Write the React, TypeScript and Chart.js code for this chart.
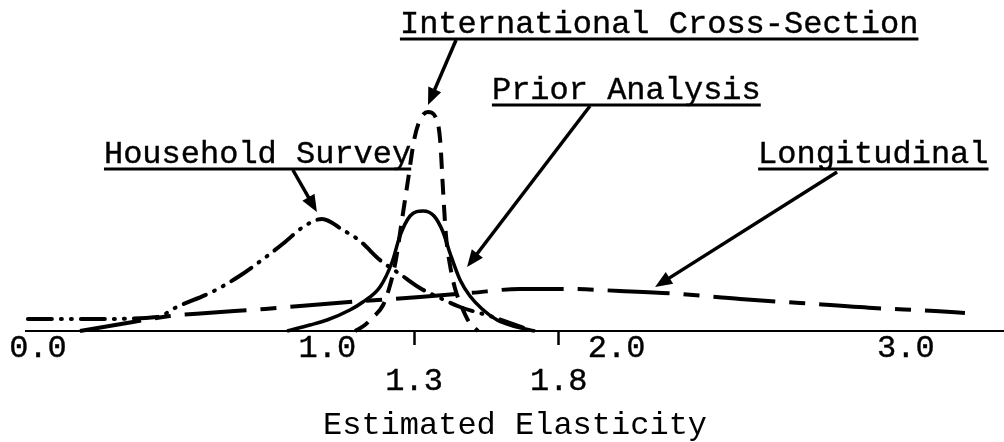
import React, { useEffect, useRef } from 'react';
import { Chart, registerables } from 'chart.js';

Chart.register(...registerables);

const FONT = '"Liberation Mono", "Courier New", monospace';

// Axis ranges (estimated elasticity on x, relative density on y)
const X_MIN = -0.0415;
const X_MAX = 3.339;
const Y_MAX = 3.31;

const TICK_VALUES = [0, 1, 1.3, 1.8, 2, 3];
const LOWER_ROW_TICKS = [1.3, 1.8];
const MARKED_TICKS = [1.3, 1.8];
const AXIS_TITLE = 'Estimated Elasticity';

// International Cross-Section (dashed)
const INTL_X = [1.096, 1.13, 1.155, 1.193, 1.217, 1.237, 1.258, 1.279, 1.3, 1.32, 1.348, 1.376, 1.39, 1.4, 1.41, 1.424, 1.441, 1.462, 1.49, 1.521];
const INTL_Y = [0, 0.06, 0.13, 0.26, 0.46, 0.71, 1.11, 1.51, 1.91, 2.11, 2.19, 2.13, 1.91, 1.41, 0.96, 0.66, 0.43, 0.26, 0.09, 0];

// Prior Analysis (solid)
const PRIOR_X = [0.861, 0.94, 0.999, 1.078, 1.123, 1.182, 1.224, 1.251, 1.286, 1.331, 1.369, 1.4, 1.424, 1.459, 1.493, 1.535, 1.587, 1.642, 1.718];
const PRIOR_Y = [0, 0.06, 0.11, 0.21, 0.29, 0.44, 0.69, 0.95, 1.15, 1.2, 1.15, 0.99, 0.78, 0.51, 0.35, 0.22, 0.11, 0.05, 0];

// Household Survey (dash-dot-dot)
const HOUSE_X = [-0.035, 0.197, 0.411, 0.48, 0.601, 0.691, 0.774, 0.854, 0.916, 0.982, 1.054, 1.113, 1.182, 1.251, 1.32, 1.39, 1.459, 1.562, 1.701];
const HOUSE_Y = [0.12, 0.12, 0.14, 0.24, 0.39, 0.54, 0.71, 0.89, 1.04, 1.12, 1.01, 0.9, 0.71, 0.57, 0.43, 0.33, 0.24, 0.15, 0.01];

// Longitudinal (long dash)
const LONG_X = [0.145, 0.328, 0.456, 0.584, 0.785, 0.906, 1.123, 1.32, 1.493, 1.666, 1.839, 2.012, 2.219, 2.427, 2.634, 2.886, 3.101, 3.204];
const LONG_Y = [0, 0.09, 0.15, 0.18, 0.22, 0.25, 0.3, 0.34, 0.38, 0.42, 0.42, 0.4, 0.37, 0.32, 0.28, 0.23, 0.2, 0.18];

// Labels with arrows (data coordinates)
const ANNOTATIONS = [
  { text: 'Household Survey', x: 0.228, y: 1.68, fromX: 0.881, fromY: 1.61, toX: 0.964, toY: 1.19 },
  { text: 'International Cross-Section', x: 1.251, y: 2.98, fromX: 1.445, fromY: 2.91, toX: 1.348, toY: 2.26 },
  { text: 'Prior Analysis', x: 1.569, y: 2.32, fromX: 1.908, fromY: 2.25, toX: 1.483, toY: 0.64 },
  { text: 'Longitudinal', x: 2.489, y: 1.68, fromX: 2.762, fromY: 1.59, toX: 2.133, toY: 0.44 },
];

const pts = (xs: number[], ys: number[]) => xs.map((x, i) => ({ x, y: ys[i] }));

const arrowLabelPlugin = {
  id: 'arrowLabels',
  afterDatasetsDraw(chart: any) {
    const { ctx } = chart;
    const xs = chart.scales.x;
    const ys = chart.scales.y;
    ctx.save();
    ctx.font = `32px ${FONT}`;
    ctx.fillStyle = '#000';
    ctx.strokeStyle = '#000';
    ctx.textAlign = 'left';
    ctx.textBaseline = 'alphabetic';
    for (const a of ANNOTATIONS) {
      const px = xs.getPixelForValue(a.x);
      const py = ys.getPixelForValue(a.y);
      ctx.lineWidth = 0.4;
      ctx.fillText(a.text, px, py);
      ctx.strokeText(a.text, px, py);
      const w = ctx.measureText(a.text).width;
      ctx.lineWidth = 3;
      ctx.beginPath();
      ctx.moveTo(px, py + 6);
      ctx.lineTo(px + w, py + 6);
      ctx.stroke();
      const x1 = xs.getPixelForValue(a.fromX);
      const y1 = ys.getPixelForValue(a.fromY);
      const x2 = xs.getPixelForValue(a.toX);
      const y2 = ys.getPixelForValue(a.toY);
      const ang = Math.atan2(y2 - y1, x2 - x1);
      const c = Math.cos(ang);
      const s = Math.sin(ang);
      const L = 17;
      const W = 7;
      ctx.lineWidth = 3.5;
      ctx.beginPath();
      ctx.moveTo(x1, y1);
      ctx.lineTo(x2 - L * 0.7 * c, y2 - L * 0.7 * s);
      ctx.stroke();
      ctx.beginPath();
      ctx.moveTo(x2, y2);
      ctx.lineTo(x2 - L * c + W * s, y2 - L * s - W * c);
      ctx.lineTo(x2 - L * c - W * s, y2 - L * s + W * c);
      ctx.closePath();
      ctx.fill();
    }
    ctx.restore();
  },
};

export default function App() {
  const ref = useRef<HTMLCanvasElement | null>(null);

  useEffect(() => {
    if (!ref.current) return;
    const common = {
      borderColor: '#000',
      pointRadius: 0,
      fill: false,
      cubicInterpolationMode: 'monotone' as const,
      clip: false as any,
    };
    const chart = new Chart(ref.current, {
      type: 'line',
      data: {
        datasets: [
          { ...common, label: 'Longitudinal', data: pts(LONG_X, LONG_Y), borderWidth: 4, borderDash: [62, 14, 16, 14] },
          { ...common, label: 'Household Survey', data: pts(HOUSE_X, HOUSE_Y), borderWidth: 4, borderDash: [24, 9, 1, 9, 1, 9], borderCapStyle: 'round' },
          { ...common, label: 'Prior Analysis', data: pts(PRIOR_X, PRIOR_Y), borderWidth: 3.5 },
          { ...common, label: 'International Cross-Section', data: pts(INTL_X, INTL_Y), borderWidth: 4, borderDash: [16, 10] },
        ],
      },
      options: {
        animation: false,
        responsive: false,
        maintainAspectRatio: false,
        layout: { padding: { left: 26, right: 0, top: 0, bottom: 0 } },
        plugins: {
          legend: { display: false },
          tooltip: { enabled: false },
          title: { display: false },
        },
        scales: {
          x: {
            type: 'linear',
            min: X_MIN,
            max: X_MAX,
            afterBuildTicks: (s: any) => {
              s.ticks = TICK_VALUES.map((v) => ({ value: v }));
            },
            afterFit: (s: any) => {
              s.height = 111;
            },
            grid: {
              display: true,
              drawOnChartArea: false,
              drawTicks: true,
              tickLength: 14,
              tickWidth: 2.5,
              tickColor: (c: any) => (c.tick && MARKED_TICKS.includes(c.tick.value) ? '#000' : 'rgba(0,0,0,0)'),
            },
            border: { display: true, color: '#000', width: 2 },
            ticks: {
              autoSkip: false,
              maxRotation: 0,
              minRotation: 0,
              padding: -13,
              color: '#000',
              textStrokeColor: '#000',
              textStrokeWidth: 0.4,
              font: { family: FONT, size: 32, lineHeight: '33px' },
              callback: (v: any) => {
                const s = Number(v).toFixed(1);
                return LOWER_ROW_TICKS.includes(Number(v)) ? ['', s] : s;
              },
            },
            title: {
              display: true,
              text: AXIS_TITLE,
              color: '#000',
              font: { family: FONT, size: 32, lineHeight: '33px' },
              padding: { top: 0, bottom: 0 },
            },
          },
          y: { display: false, min: 0, max: Y_MAX },
        },
      },
      plugins: [arrowLabelPlugin],
    });
    return () => chart.destroy();
  }, []);

  return (
    <div style={{ position: 'absolute', left: 0, top: 0, width: 1004, height: 442, background: '#fff' }}>
      <canvas ref={ref} width={1004} height={442} style={{ display: 'block' }} />
    </div>
  );
}
